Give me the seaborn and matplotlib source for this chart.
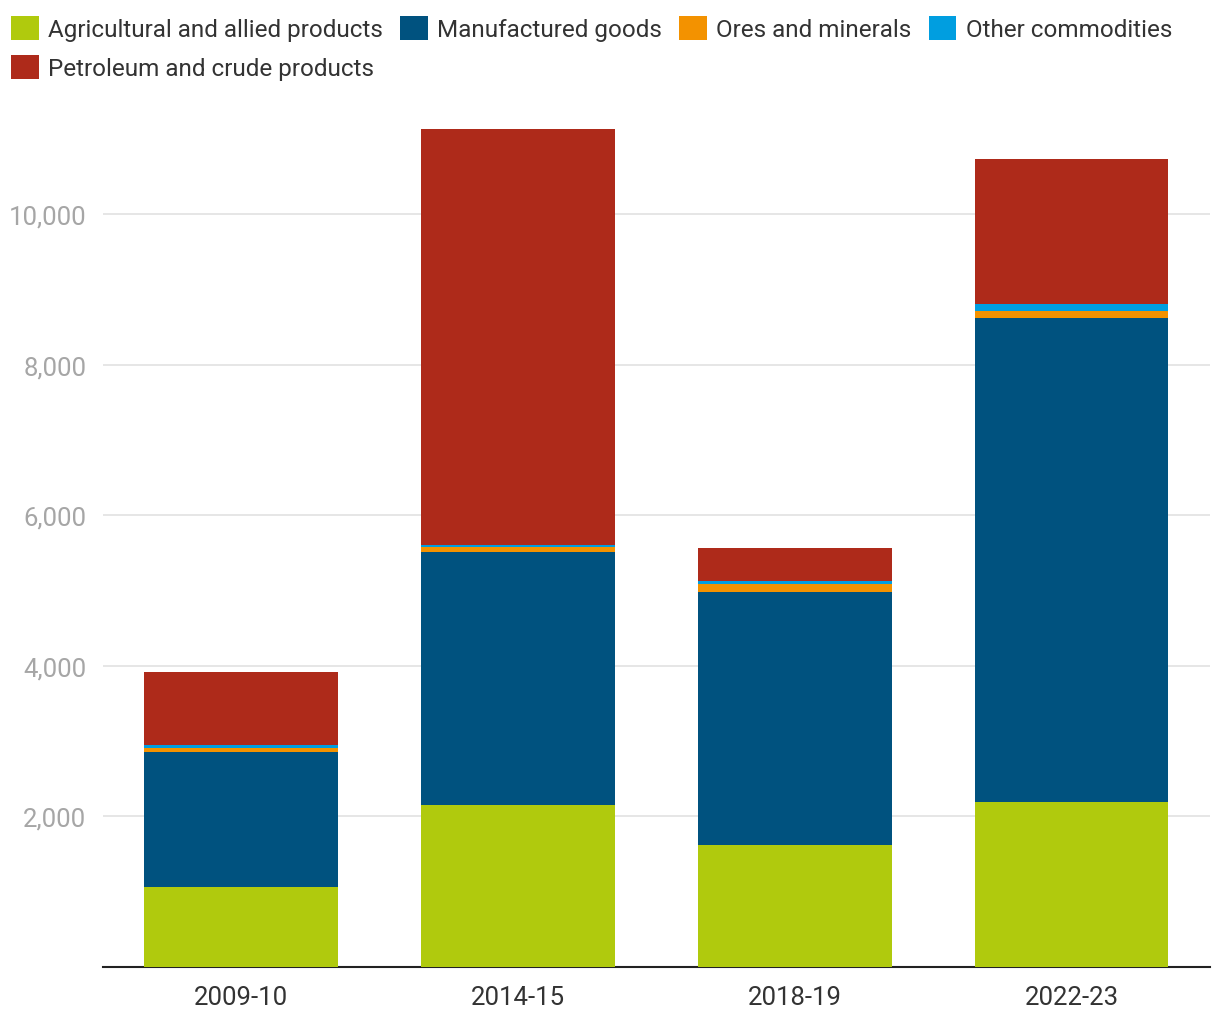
import pandas as pd
import matplotlib.pyplot as plt
import matplotlib.ticker as mticker
from matplotlib.patches import Patch
import seaborn as sns

# Values
years = ["2009-10", "2014-15", "2018-19", "2022-23"]
agricultural = [1062, 2151, 1620, 2191]
manufactured = [1793, 3360, 3360, 6428]
ores = [53, 66, 106, 97]
other = [40, 27, 40, 89]
petroleum = [970, 5525, 438, 1925]

series = ["Agricultural and allied products", "Manufactured goods",
          "Ores and minerals", "Other commodities", "Petroleum and crude products"]
colors = ["#b0ca0d", "#00527f", "#f39200", "#009ee0", "#ae2a1a"]

df = pd.DataFrame({"year": years,
                   series[0]: agricultural,
                   series[1]: manufactured,
                   series[2]: ores,
                   series[3]: other,
                   series[4]: petroleum})

# cumulative totals, drawn tallest first so shorter layers sit on top
cum = df[series].cumsum(axis=1)

sns.set_style("white")
plt.rcParams["font.family"] = ["Roboto", "DejaVu Sans"]

fig = plt.figure(figsize=(12.2, 10.2), dpi=100)
ax = fig.add_axes([0.0844, 0.051, 0.9074, 0.849])

for name, col in reversed(list(zip(series, colors))):
    sns.barplot(x=df["year"], y=cum[name], color=col, width=0.7,
                saturation=1, ax=ax, zorder=3, edgecolor="none", linewidth=0)

ax.set_ylim(0, 11500)
ax.set_xlim(-0.5, 3.5)
ax.set_yticks([2000, 4000, 6000, 8000, 10000])
ax.yaxis.set_major_formatter(mticker.StrMethodFormatter("{x:,.0f}"))
ax.grid(axis="y", color="#e2e2e2", linewidth=1.2, zorder=0)
ax.set_xlabel("")
ax.set_ylabel("")
for s in ["top", "right", "left"]:
    ax.spines[s].set_visible(False)
ax.spines["bottom"].set_color("#222222")
ax.spines["bottom"].set_linewidth(1.5)
ax.tick_params(axis="y", length=0, labelsize=18.5, labelcolor="#a6a6a6", pad=12)
ax.tick_params(axis="x", length=0, labelsize=18.5, labelcolor="#333333", pad=13)

# legend, reordered so the rows read left to right
order = [0, 4, 1, 2, 3]
handles = [Patch(facecolor=colors[i], edgecolor="none") for i in order]
labels = [series[i] for i in order]
fig.legend(handles, labels, ncol=4, loc="upper left", bbox_to_anchor=(0.0, 0.994),
           frameon=False, fontsize=17.5, labelcolor="#333333",
           handlelength=1.15, handleheight=1.15, handletextpad=0.38,
           columnspacing=0.7, labelspacing=0.55, borderaxespad=0.05)

fig.savefig("out.png", dpi=100)
